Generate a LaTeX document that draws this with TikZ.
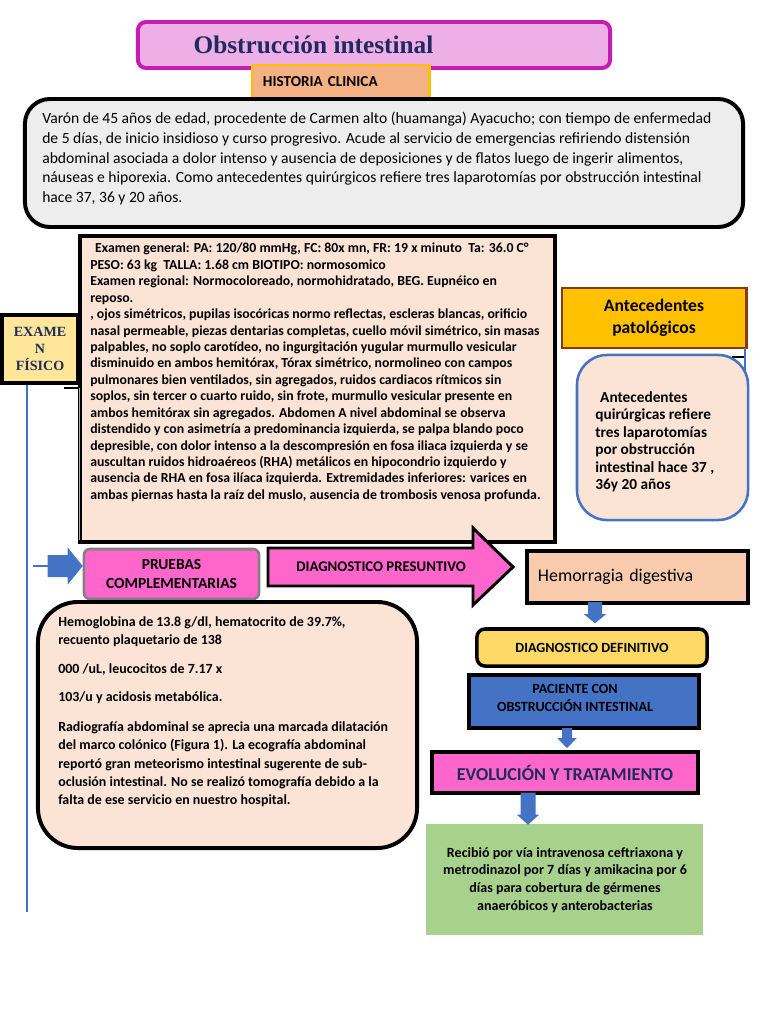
\documentclass[tikz,border=0pt]{standalone}
\usepackage{fontspec}
\setmainfont{Carlito}
\newfontfamily\headserif{Liberation Serif}
\usetikzlibrary{calc}
\definecolor{navy}{HTML}{1F2A5E}
\definecolor{titlepink}{HTML}{EEAEE6}
\definecolor{magentaline}{HTML}{C51DB3}
\definecolor{apricot}{HTML}{F4B183}
\definecolor{gold}{HTML}{FFC000}
\definecolor{lightgrey}{HTML}{EDEDED}
\definecolor{peach}{HTML}{FBE4D5}
\definecolor{paleyellow}{HTML}{FFE699}
\definecolor{steelblue}{HTML}{4472C4}
\definecolor{brownline}{HTML}{843C0C}
\definecolor{hotpink}{HTML}{FF66CC}
\definecolor{salmon}{HTML}{F8CBAD}
\definecolor{butter}{HTML}{FFD966}
\definecolor{leaf}{HTML}{A9D18E}
\tikzset{
  panel/.style={draw=black, line width=2.8pt, inner sep=0pt},
  bodytext/.style={inner sep=0pt, align=left, anchor=north west},
  tagtext/.style={align=center, font=\bfseries\fontsize{10}{12.8}\selectfont},
  blockfill/.style={fill=steelblue},
}

\begin{document}
\begin{tikzpicture}[x=0.025cm, y=-0.025cm]
\useasboundingbox (0,0) rectangle (768,1024);
% encabezado
\node[panel, draw=magentaline, fill=titlepink, rounded corners=0.2cm, minimum width=11.8cm, minimum height=1.15cm] (titlebox) at (374,45) {};
\node[anchor=base, inner sep=0pt, text=navy, font=\headserif\bfseries\fontsize{18}{20}\selectfont] (title) at (313.5,54) {Obstrucción intestinal};
\node[panel, draw=gold, line width=2.1pt, fill=apricot, minimum width=4.425cm, minimum height=0.825cm, text width=3.875cm, align=left, font=\bfseries\fontsize{10.8}{12}\selectfont] (historia) at (340.5,81.5) {HISTORIA CLINICA};
% historia clinica
\node[panel, fill=lightgrey, rounded corners=0.625cm, minimum width=17.95cm, minimum height=3.2cm] (hcase) at (384,163) {};
\node[bodytext, font=\fontsize{11.1}{14.05}\selectfont] (hcasetxt) at (42,112) {Varón de 45 años de edad, procedente de Carmen alto (huamanga) Ayacucho; con tiempo de enfermedad\\
de 5 días, de inicio insidioso y curso progresivo. Acude al servicio de emergencias refiriendo distensión\\
abdominal asociada a dolor intenso y ausencia de deposiciones y de flatos luego de ingerir alimentos,\\
náuseas e hiporexia. Como antecedentes quirúrgicos refiere tres laparotomías por obstrucción intestinal\\
hace 37, 36 y 20 años.};
% examen fisico
\node[panel, fill=peach, minimum width=11.875cm, minimum height=7.65cm] (exam) at (317.5,389) {};
\node[bodytext, font=\bfseries\fontsize{9.8}{11.68}\selectfont] (examtxt) at (90,243) {\hspace*{3.5pt}Examen general: PA: 120/80 mmHg, FC: 80x mn, FR: 19 x minuto\ \ Ta: 36.0 C°\\
PESO: 63 kg\ \ TALLA: 1.68 cm BIOTIPO: normosomico\\
Examen regional: Normocoloreado, normohidratado, BEG. Eupnéico en\\
reposo.\\
, ojos simétricos, pupilas isocóricas normo reflectas, escleras blancas, orificio\\
nasal permeable, piezas dentarias completas, cuello móvil simétrico, sin masas\\
palpables, no soplo carotídeo, no ingurgitación yugular murmullo vesicular\\
disminuido en ambos hemitórax, Tórax simétrico, normolineo con campos\\
pulmonares bien ventilados, sin agregados, ruidos cardiacos rítmicos sin\\
soplos, sin tercer o cuarto ruido, sin frote, murmullo vesicular presente en\\
ambos hemitórax sin agregados. Abdomen A nivel abdominal se observa\\
distendido y con asimetría a predominancia izquierda, se palpa blando poco\\
depresible, con dolor intenso a la descompresión en fosa iliaca izquierda y se\\
auscultan ruidos hidroaéreos (RHA) metálicos en hipocondrio izquierdo y\\
ausencia de RHA en fosa ilíaca izquierda. Extremidades inferiores: varices en\\
ambas piernas hasta la raíz del muslo, ausencia de trombosis venosa profunda.};
\node[panel, fill=paleyellow, minimum width=1.9cm, minimum height=1.7cm, align=center, text=navy, font=\headserif\bfseries\fontsize{10}{12}\selectfont] (exlabel) at (40,349) {EXAME\\N\\FÍSICO};
\draw[steelblue, line width=1.1pt] ([xshift=-0.325cm]exlabel.south) -- ++(0,527);
\draw[line width=1.5pt] (64,388) -- (80,388);
\draw[gray!60, line width=0.5pt] (79,388) -- (79,540);
% antecedentes
\node[panel, draw=brownline, line width=2.1pt, fill=gold, minimum width=4.6cm, minimum height=1.5cm, tagtext, font=\bfseries\fontsize{12.5}{15.6}\selectfont] (antpat) at (654,318) {Antecedentes\\patológicos};
\draw[line width=1.5pt] (732,357) -- (745,357);
\draw[steelblue, line width=1.4pt] (745,348) -- (745,457);
\node[panel, draw=steelblue, line width=1.8pt, fill=peach, rounded corners=0.75cm, minimum width=4.275cm, minimum height=4.125cm] (antquir) at (662.5,437.5) {};
\node[bodytext, font=\bfseries\fontsize{10.9}{12.5}\selectfont] (antquirtxt) at (595,391) {\hspace*{3.5pt}Antecedentes\\
quirúrgicas refiere\\
tres laparotomías\\
por obstrucción\\
intestinal hace 37 ,\\
36y 20 años};
% pruebas complementarias
\node[panel, draw=gray, line width=1.8pt, fill=hotpink, rounded corners=0.15cm, minimum width=4.375cm, minimum height=1.25cm, tagtext, font=\bfseries\fontsize{11}{13.5}\selectfont] (pruebas) at (171.5,574) {PRUEBAS\\COMPLEMENTARIAS};
\coordinate (pin) at (33,566);
\draw[steelblue, line width=1pt] (pin) -- ++(17,0);
\fill[blockfill] (pruebas.west |- pin) -- ++(-15,-18.5) -- ++(0,7.5) -- ++(-20,0) -- ++(0,22) -- ++(20,0) -- ++(0,7.5) -- cycle;
\node[panel, fill=peach, rounded corners=1cm, minimum width=9.475cm, minimum height=6.15cm] (labs) at (227.5,725) {};
\node[bodytext, font=\bfseries\fontsize{9.9}{13}\selectfont] (labstxt) at (58,616) {Hemoglobina de 13.8 g/dl, hematocrito de 39.7\%,\\
recuento plaquetario de 138\\[7.5pt]
000 /uL, leucocitos de 7.17 x\\[7.5pt]
103/u y acidosis metabólica.\\[8pt]
Radiografía abdominal se aprecia una marcada dilatación\\
del marco colónico (Figura 1). La ecografía abdominal\\
reportó gran meteorismo intestinal sugerente de sub-\\
oclusión intestinal. No se realizó tomografía debido a la\\
falta de ese servicio en nuestro hospital.};
% diagnostico
\draw[line width=2.1pt, fill=hotpink] (268,548) -- (473,548) -- (473,528) -- (513,567) -- (473,605) -- (473,586) -- (268,586) -- cycle;
\node[tagtext, font=\bfseries\fontsize{10.5}{12}\selectfont] (presun) at (381,567) {DIAGNOSTICO PRESUNTIVO};
\node[panel, fill=salmon, minimum width=5.525cm, minimum height=1.3cm, text width=4.975cm, align=left, font=\fontsize{12.7}{15}\selectfont] (hem) at (637.5,577) {Hemorragia digestiva};
\node[panel, line width=2.5pt, fill=butter, rounded corners=0.2cm, minimum width=5.75cm, minimum height=0.925cm, tagtext] (defin) at (592,647.5) {DIAGNOSTICO DEFINITIVO};
\fill[blockfill] ($(defin.north)+(3,-4)$) -- ++(-11,-9) -- ++(4,0) -- ++(0,-12) -- ++(14,0) -- ++(0,12) -- ++(4,0) -- cycle;
\node[panel, line width=2.5pt, fill=steelblue, minimum width=5.75cm, minimum height=1.325cm] (pac) at (584,701.5) {};
\node[tagtext, inner sep=0pt] (pactxt) at (575,698) {PACIENTE CON\\OBSTRUCCIÓN INTESTINAL};
% evolucion
\node[panel, line width=2.5pt, fill=hotpink, minimum width=6.65cm, minimum height=1.025cm, tagtext, text=navy, font=\bfseries\fontsize{12.9}{14}\selectfont] (evol) at (565,772.5) {EVOLUCIÓN Y TRATAMIENTO};
\fill[blockfill] ($(evol.north)+(2,-2)$) -- ++(-9.5,-10) -- ++(4.5,0) -- ++(0,-10) -- ++(10,0) -- ++(0,10) -- ++(4.5,0) -- cycle;
\node[fill=leaf, inner sep=0pt, minimum width=6.925cm, minimum height=2.775cm] (green) at (564.5,879.5) {};
\node[tagtext, inner sep=0pt, font=\bfseries\fontsize{10}{12.6}\selectfont] (greentxt) at (565,880) {Recibió por vía intravenosa ceftriaxona y\\
metrodinazol por 7 días y amikacina por 6\\
días para cobertura de gérmenes\\
anaeróbicos y anterobacterias};
\fill[blockfill] ($(green.north)+(-36.5,1)$) -- ++(-11,-10) -- ++(3.5,0) -- ++(0,-22) -- ++(15,0) -- ++(0,22) -- ++(3.5,0) -- cycle;
\end{tikzpicture}
\end{document}
